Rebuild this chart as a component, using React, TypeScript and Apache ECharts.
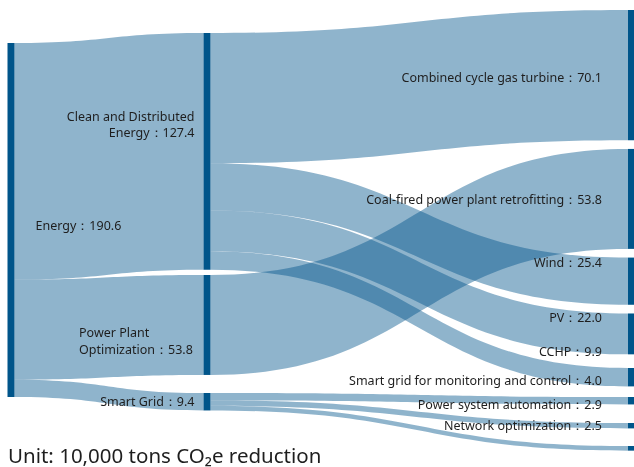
import React, { useEffect, useRef } from "react";
import * as echarts from "echarts";

// ---- data ----
const nodeNames = [
  "Energy",
  "Clean and Distributed Energy",
  "Power Plant Optimization",
  "Smart Grid",
  "Combined cycle gas turbine",
  "Coal-fired power plant retrofitting",
  "Wind",
  "PV",
  "CCHP",
  "Smart grid for monitoring and control",
  "Power system automation",
  "Network optimization",
];
const nodeLabels = [
  "Energy",
  "Clean and Distributed\nEnergy",
  "Power Plant\nOptimization",
  "Smart Grid",
  "Combined cycle gas turbine",
  "Coal-fired power plant retrofitting",
  "Wind",
  "PV",
  "CCHP",
  "Smart grid for monitoring and control",
  "Power system automation",
  "Network optimization",
];
const nodeColumns = [0, 1, 1, 1, 2, 2, 2, 2, 2, 2, 2, 2];
const linkSources = [
  "Energy",
  "Energy",
  "Energy",
  "Clean and Distributed Energy",
  "Clean and Distributed Energy",
  "Clean and Distributed Energy",
  "Clean and Distributed Energy",
  "Power Plant Optimization",
  "Smart Grid",
  "Smart Grid",
  "Smart Grid",
];
const linkTargets = [
  "Clean and Distributed Energy",
  "Power Plant Optimization",
  "Smart Grid",
  "Combined cycle gas turbine",
  "Wind",
  "PV",
  "CCHP",
  "Coal-fired power plant retrofitting",
  "Smart grid for monitoring and control",
  "Power system automation",
  "Network optimization",
];
const linkValues = [127.4, 53.8, 9.4, 70.1, 25.4, 22.0, 9.9, 53.8, 4.0, 2.9, 2.5];
const unitText = "Unit: 10,000 tons CO₂e reduction";

// ---- layout (not data) ----
const SERIES_TOP = 10;
const SERIES_HEIGHT = 415;
const SERIES_LEFT = 7.5;
const SERIES_WIDTH = 627.5;
const relY = (px: number) => (px - SERIES_TOP) / SERIES_HEIGHT;
// vertical placement of some nodes (relative 0..1); others are auto-stacked
const nodeLocalY: Record<string, number> = {
  Energy: relY(43),
  "Clean and Distributed Energy": relY(33),
  "Power Plant Optimization": relY(275),
  "Smart Grid": relY(393),
  CCHP: relY(368),
  "Smart grid for monitoring and control": relY(397),
  "Power system automation": relY(423),
  "Network optimization": relY(446),
};
const middleLocalX = (203.5 - SERIES_LEFT) / SERIES_WIDTH;
const labelShift: Record<string, [number, number]> = {
  Energy: [0, 5],
  "Clean and Distributed Energy": [0, -27],
  "Power Plant Optimization": [-115.5, 16],
  "Smart Grid": [0, 0],
  "Combined cycle gas turbine": [0, 2],
  "Coal-fired power plant retrofitting": [0, 1],
  Wind: [0, -18.5],
  PV: [0, -16.5],
  CCHP: [0, -25.5],
  "Smart grid for monitoring and control": [0, -20.7],
  "Power system automation": [0, -20.7],
  "Network optimization": [0, -22.6],
};

const NODE_COLOR = "#00558a";
const FONT = "'Noto Sans', 'DejaVu Sans', sans-serif";

export default function App() {
  const ref = useRef<HTMLDivElement>(null);
  useEffect(() => {
    if (!ref.current) return;
    const chart = echarts.init(ref.current, undefined, { renderer: "svg" });

    const data = nodeNames.map((name, i) => {
      const col = nodeColumns[i];
      const label: any = {
        position: col === 0 ? "right" : "left",
        distance: col === 0 ? 21 : col === 1 ? 9 : 26,
        offset: labelShift[name] || [0, 0],
      };
      if (name === "Power Plant Optimization") label.align = "left";
      const item: any = { name, depth: col, label };
      if (nodeLocalY[name] != null) item.localY = nodeLocalY[name];
      if (col === 1) item.localX = middleLocalX;
      return item;
    });
    const links = linkValues.map((v, i) => ({
      source: linkSources[i],
      target: linkTargets[i],
      value: v,
    }));

    chart.setOption({
      animation: false,
      series: [
        {
          type: "sankey",
          left: SERIES_LEFT,
          top: SERIES_TOP,
          width: SERIES_WIDTH,
          height: SERIES_HEIGHT,
          nodeWidth: 7,
          nodeGap: 8.7,
          layoutIterations: 0,
          draggable: false,
          emphasis: { disabled: true },
          itemStyle: { color: NODE_COLOR, borderWidth: 0 },
          lineStyle: { color: NODE_COLOR, opacity: 0.44, curveness: 0.5 },
          label: {
            fontFamily: FONT,
            fontSize: 12.5,
            color: "#1e1e1e",
            lineHeight: 16.5,
            formatter: (p: any) => {
              const idx = nodeNames.indexOf(p.name);
              return `${nodeLabels[idx]}：${Number(p.value).toFixed(1)}`;
            },
          },
          data,
          links,
        },
      ],
      graphic: [
        {
          type: "text",
          x: 8,
          y: 454.5,
          style: {
            text: unitText,
            fontFamily: FONT,
            fontSize: 20.5,
            lineHeight: 21,
            fill: "#1e1e1e",
            verticalAlign: "middle",
          },
        },
      ],
    });
    return () => chart.dispose();
  }, []);
  return (
    <div
      ref={ref}
      style={{ position: "fixed", left: 0, top: 0, width: 634, height: 467 }}
    />
  );
}
